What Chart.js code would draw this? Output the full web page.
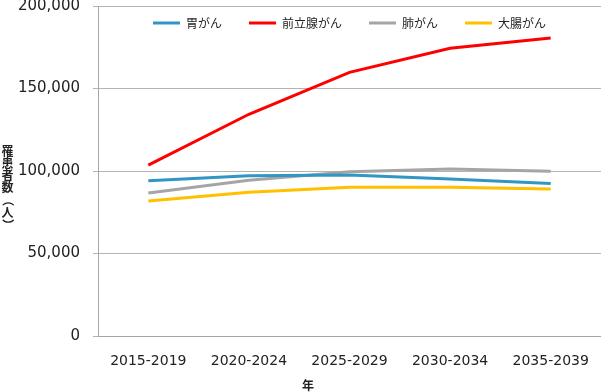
<!DOCTYPE html>
<html>
<head>
<meta charset="utf-8">
<script src="https://cdn.jsdelivr.net/npm/chart.js@4"></script>
<style>
  body { margin: 0; background: #fff; }
</style>
</head>
<body>
<canvas id="chart" width="601" height="392"></canvas>
<script>
const periods = ['2015-2019', '2020-2024', '2025-2029', '2030-2034', '2035-2039'];
const stomach = [94100, 97100, 97600, 95200, 92500];
const prostate = [103600, 134400, 159800, 174400, 180600];
const lung = [86700, 94400, 99600, 101200, 99800];
const colorectal = [81800, 87100, 90100, 90100, 89100];
const yTitle = '罹患者数（人）';
const xTitle = '年';

function series(label, data, color) {
    return {
        label: label,
        data: data,
        borderColor: color,
        backgroundColor: color,
        borderWidth: 3,
        pointRadius: 0,
        tension: 0,
        fill: false
    };
}

// legend sits inside the plot, across its top
const legendInside = {
    id: 'legendInside',
    afterLayout(chart) {
        const lg = chart.legend;
        const area = chart.chartArea;
        lg.left = area.left;
        lg.right = area.right;
        lg.top = -10;
        lg.bottom = 42;
    }
};

// axis titles: stacked vertical y title, x title under the labels
const axisTitles = {
    id: 'axisTitles',
    afterDraw(chart) {
        const ctx = chart.ctx;
        ctx.save();
        ctx.fillStyle = '#222';
        ctx.font = 'bold 12px "Noto Sans CJK JP"';
        ctx.textAlign = 'center';
        ctx.textBaseline = 'middle';
        let y = 151;
        for (const ch of yTitle) {
            if (ch === '（' || ch === '）') {
                ctx.save();
                ctx.translate(7.5, y);
                ctx.rotate(Math.PI / 2);
                ctx.fillText(ch, 0, 0);
                ctx.restore();
            } else {
                ctx.fillText(ch, 7.5, y);
            }
            y += 12.3;
        }
        ctx.fillText(xTitle, 308, 385);
        ctx.restore();
    }
};

new Chart(document.getElementById('chart'), {
    type: 'line',
    data: {
        labels: periods,
        datasets: [
            series('胃がん', stomach, '#3196C4'),
            series('前立腺がん', prostate, '#FF0000'),
            series('肺がん', lung, '#A5A5A5'),
            series('大腸がん', colorectal, '#FFC000')
        ]
    },
    options: {
        responsive: false,
        animation: false,
        layout: { padding: { top: 6, right: 0, left: 0, bottom: 0 } },
        plugins: {
            legend: {
                position: 'top',
                fullSize: false,
                maxHeight: 0.01,
                align: 'center',
                labels: {
                    usePointStyle: true,
                    pointStyle: 'line',
                    pointStyleWidth: 27,
                    padding: 27,
                    color: '#222',
                    font: { family: '"Noto Sans CJK JP"', size: 12 }
                }
            },
            tooltip: { enabled: false }
        },
        scales: {
            x: {
                offset: true,
                grid: { display: false, drawTicks: false },
                border: { display: true, color: '#A6A6A6' },
                ticks: {
                    padding: 17,
                    color: '#222',
                    font: { family: '"DejaVu Sans"', size: 14 },
                    maxRotation: 0
                },
                afterFit(scale) {
                    scale.height = 56;
                    scale.paddingLeft = 0;
                    scale.paddingRight = 0;
                }
            },
            y: {
                min: 0,
                max: 200000,
                grid: { color: '#B3B3B3', tickLength: 5 },
                border: { display: true, color: '#A6A6A6' },
                ticks: {
                    stepSize: 50000,
                    padding: 13,
                    color: '#222',
                    font: { family: '"DejaVu Sans"', size: 15 },
                    callback: v => v.toLocaleString('en-US')
                },
                afterFit(scale) {
                    scale.width = 98;
                    scale.paddingTop = 0;
                    scale.paddingBottom = 0;
                }
            }
        }
    },
    plugins: [legendInside, axisTitles]
});
</script>
</body>
</html>
